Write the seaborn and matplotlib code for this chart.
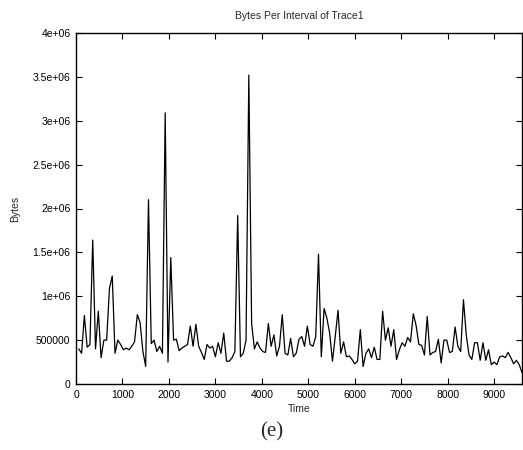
import numpy as np
import pandas as pd
import matplotlib
matplotlib.use("Agg")
import matplotlib.pyplot as plt
from matplotlib.ticker import FixedLocator
import seaborn as sns

# sample index (one sample every 60 time units)
STEP = 60
# bytes per interval, in units of 1e6
bytes_mb = [
    0.40, 0.35, 0.78, 0.42, 0.45, 1.64, 0.40, 0.83, 0.30, 0.50,
    0.50, 1.09, 1.23, 0.35, 0.50, 0.45, 0.39, 0.41, 0.39, 0.43,
    0.48, 0.79, 0.70, 0.37, 0.20, 2.10, 0.46, 0.50, 0.37, 0.43,
    0.35, 3.09, 0.25, 1.44, 0.50, 0.51, 0.38, 0.41, 0.43, 0.45,
    0.66, 0.43, 0.68, 0.43, 0.36, 0.28, 0.45, 0.41, 0.43, 0.31,
    0.47, 0.35, 0.58, 0.26, 0.26, 0.30, 0.37, 1.92, 0.31, 0.35,
    0.50, 3.52, 0.69, 0.40, 0.48, 0.41, 0.37, 0.36, 0.69, 0.43,
    0.56, 0.32, 0.43, 0.79, 0.35, 0.33, 0.52, 0.31, 0.35, 0.51,
    0.54, 0.43, 0.66, 0.45, 0.43, 0.54, 1.48, 0.31, 0.86, 0.75,
    0.58, 0.26, 0.54, 0.84, 0.35, 0.48, 0.31, 0.32, 0.28, 0.23,
    0.26, 0.62, 0.20, 0.35, 0.40, 0.30, 0.42, 0.28, 0.28, 0.83,
    0.50, 0.64, 0.43, 0.62, 0.28, 0.39, 0.47, 0.43, 0.53, 0.48,
    0.80, 0.67, 0.45, 0.44, 0.33, 0.77, 0.33, 0.36, 0.37, 0.51,
    0.24, 0.50, 0.50, 0.36, 0.37, 0.65, 0.43, 0.37, 0.96, 0.56,
    0.33, 0.28, 0.47, 0.47, 0.27, 0.47, 0.27, 0.39, 0.22, 0.25,
    0.22, 0.31, 0.32, 0.30, 0.36, 0.30, 0.23, 0.27, 0.22, 0.13,
]
x_ticks = [0, 1000, 2000, 3000, 4000, 5000, 6000, 7000, 8000, 9000]
y_ticks = [0, 500000, 1e6, 1.5e6, 2e6, 2.5e6, 3e6, 3.5e6, 4e6]
y_labels = ["0", "500000", "1e+06", "1.5e+06", "2e+06", "2.5e+06",
            "3e+06", "3.5e+06", "4e+06"]

df = pd.DataFrame({"Time": STEP * np.arange(1, len(bytes_mb) + 1),
                   "Bytes": np.array(bytes_mb) * 1e6})

sns.set_style("ticks")
plt.rcParams["font.family"] = ["Liberation Sans", "DejaVu Sans"]
fs = 7.5

fig = plt.figure(figsize=(5.23, 4.5), dpi=100)
ax = fig.add_axes([76 / 523, 66 / 450, 446 / 523, 351 / 450])
sns.lineplot(data=df, x="Time", y="Bytes", color="black", lw=0.9, ax=ax)

ax.set_xlim(0, 9600)
ax.set_ylim(0, 4e6)
ax.xaxis.set_major_locator(FixedLocator(x_ticks))
ax.yaxis.set_major_locator(FixedLocator(y_ticks))
ax.set_yticklabels(y_labels)
ax.tick_params(direction="in", length=4, width=0.8, labelsize=fs,
               top=True, right=True, colors="black", pad=4)
for s in ax.spines.values():
    s.set_linewidth(1.0)
    s.set_color("black")
ax.set_title("Bytes Per Interval of Trace1", fontsize=fs, pad=10)
ax.set_xlabel("Time", fontsize=fs, labelpad=3)
ax.set_ylabel("Bytes", fontsize=fs, labelpad=9)
fig.text(272 / 523, 1 - 432 / 450, "(e)", ha="center", va="center",
         fontsize=15, family=["Liberation Serif", "DejaVu Serif"])

fig.savefig("out.png", dpi=100)
